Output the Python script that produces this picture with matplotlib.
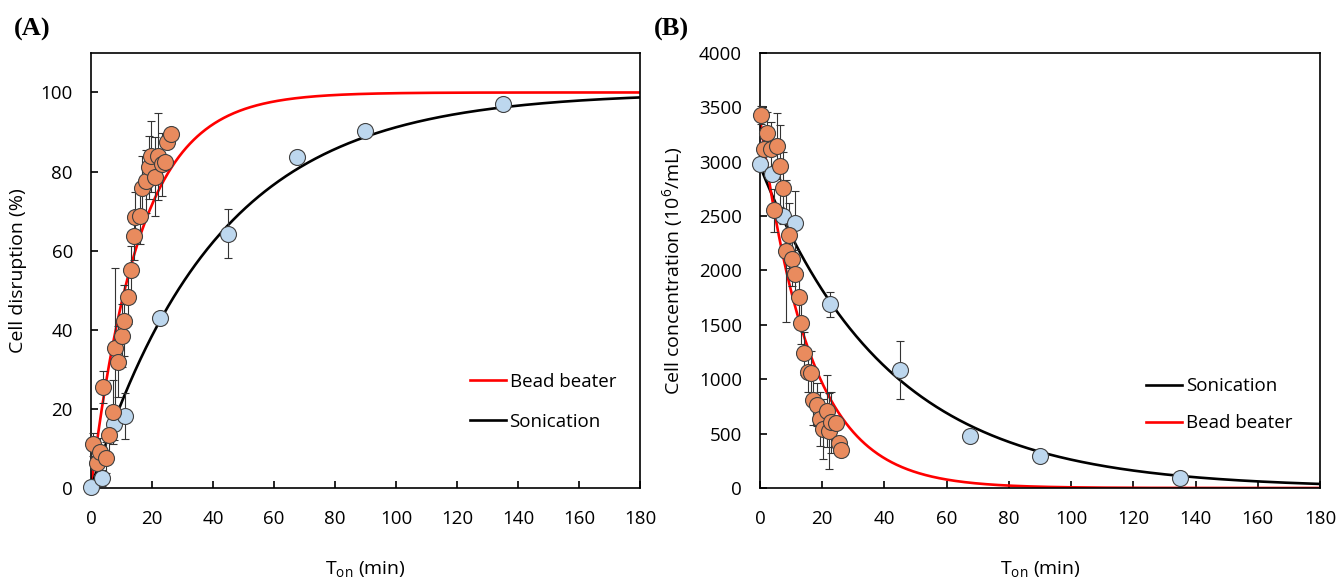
import numpy as np
import matplotlib
matplotlib.use("Agg")
import matplotlib.pyplot as plt

plt.rcParams["font.family"] = ["Open Sans", "DejaVu Sans"]
plt.rcParams["mathtext.fontset"] = "custom"
plt.rcParams["mathtext.rm"] = "Open Sans"
plt.rcParams["mathtext.it"] = "Open Sans:italic"

# ---------------------------------------------------------------------------
# Measured data
# ---------------------------------------------------------------------------
# Sonication (same sampling times for both panels)
son_t = [0, 3.75, 7.5, 11.25, 22.5, 45, 67.5, 90, 135]
son_disr = [0.3, 2.5, 16.2, 18.2, 43.0, 64.3, 83.8, 90.3, 97.0]
son_disr_err = [0.0, 2.0, 4.0, 5.7, 0.8, 6.2, 1.6, 1.0, 0.6]
son_conc = [2975, 2886, 2500, 2439, 1690, 1085, 480, 290, 90]
son_conc_err = [0, 0, 0, 290, 115, 270, 55, 50, 20]

# Bead beater, panel A
bb_t_a = [0.75, 1.9, 2.95, 3.8, 4.8, 5.9, 7.1, 7.9, 9.0, 10.3, 10.9, 12.0,
          13.0, 14.0, 14.4, 16.1, 16.8, 17.9, 19.0, 19.7, 21.0, 22.1, 23.2,
          24.3, 24.9, 26.2]
bb_disr = [11.0, 6.4, 9.2, 25.5, 7.7, 13.3, 19.2, 35.5, 31.9, 38.5, 42.3, 48.4,
           55.2, 63.6, 68.4, 68.7, 75.9, 77.5, 81.1, 83.9, 78.7, 83.9, 81.8,
           82.4, 87.4, 89.6]
bb_disr_err = [3.0, 3.0, 3.5, 4.0, 4.0, 6.0, 8.0, 20.0, 9.0, 8.0, 9.0, 7.0,
               6.0, 6.0, 6.5, 7.0, 8.0, 8.0, 8.0, 9.0, 10.0, 11.0, 8.0,
               0.0, 0.0, 0.0]

# Bead beater, panel B
bb_t_b = [0.3, 1.2, 2.2, 3.5, 4.4, 5.5, 6.5, 7.5, 8.3, 9.4, 10.3, 11.3, 12.4,
          13.2, 14.2, 15.3, 16.4, 17.1, 18.3, 19.3, 20.1, 21.5, 22.2, 22.8,
          24.4, 25.4, 26.2]
bb_conc = [3430, 3116, 3261, 3116, 2553, 3144, 2959, 2760, 2177, 2322, 2106,
           1968, 1752, 1521, 1238, 1065, 1059, 813, 767, 634, 542, 711, 526,
           603, 597, 413, 345]
bb_conc_err = [80, 120, 200, 250, 200, 300, 380, 330, 650, 300, 250, 220, 230,
               200, 200, 180, 200, 230, 200, 250, 280, 330, 350, 280, 0, 0, 0]

# First-order fits: rate constants (1/min) and initial concentrations
K_BB = 0.063
K_SON = 0.0243
C0_BB = 3400
C0_SON = 2960

ORANGE = "#E98B5E"
BLUE = "#BDD7EE"
EDGE = "#404040"


def _style(ax):
    for sp in ax.spines.values():
        sp.set_linewidth(1.2)
        sp.set_color("black")
    ax.tick_params(direction="in", length=5, width=1.2, labelsize=13.5,
                   top=False, right=False)
    ax.tick_params(axis="x", pad=16)
    ax.tick_params(axis="y", pad=13)
    ax.set_xlim(0, 180)
    ax.set_xticks(range(0, 181, 20))
    ax.set_xlabel("T$_{\\mathrm{on}}$ (min)", fontsize=14, labelpad=22)


def _points(ax, t, y, err, color):
    ax.errorbar(t, y, yerr=err, fmt="none", ecolor="#333333",
                elinewidth=0.8, capsize=3, capthick=0.8, zorder=3,
                clip_on=False)
    ax.plot(t, y, "o", ms=11.5, mfc=color, mec=EDGE, mew=0.8,
            linestyle="none", zorder=4, clip_on=False)


fig = plt.figure(figsize=(13.38, 5.84), dpi=100)
ax_a = fig.add_axes([0.068, 0.1644, 0.4103, 0.745])
ax_b = fig.add_axes([0.568, 0.1644, 0.4185, 0.745])

t_fit = np.linspace(0, 180, 600)

# (A) cell disruption
_style(ax_a)
ax_a.set_ylim(0, 110)
ax_a.set_yticks(range(0, 101, 20))
ax_a.plot(t_fit, 100 * (1 - np.exp(-K_BB * t_fit)), color="red", lw=1.9,
          label="Bead beater", zorder=2)
ax_a.plot(t_fit, 100 * (1 - np.exp(-K_SON * t_fit)), color="black", lw=1.9,
          label="Sonication", zorder=2)
_points(ax_a, son_t, son_disr, son_disr_err, BLUE)
_points(ax_a, bb_t_a, bb_disr, bb_disr_err, ORANGE)
ax_a.set_ylabel("Cell disruption (%)", fontsize=14, labelpad=10)
ax_a.legend(loc="upper left", bbox_to_anchor=(0.66, 0.304), frameon=False,
            fontsize=13.5, handlelength=1.9, handletextpad=0.2,
            labelspacing=1.17)
fig.text(0.010, 0.95, "(A)", fontsize=19, fontweight="bold",
         family="Liberation Serif", va="center")

# (B) cell concentration
_style(ax_b)
ax_b.set_ylim(0, 4000)
ax_b.set_yticks(range(0, 4001, 500))
ax_b.plot(t_fit, C0_SON * np.exp(-K_SON * t_fit), color="black", lw=1.9,
          label="Sonication", zorder=2)
ax_b.plot(t_fit, C0_BB * np.exp(-K_BB * t_fit), color="red", lw=1.9,
          label="Bead beater", zorder=2)
_points(ax_b, son_t, son_conc, son_conc_err, BLUE)
_points(ax_b, bb_t_b, bb_conc, bb_conc_err, ORANGE)
ax_b.set_ylabel("Cell concentration (10$^6$/mL)", fontsize=14, labelpad=10)
ax_b.legend(loc="upper left", bbox_to_anchor=(0.66, 0.293), frameon=False,
            fontsize=13.5, handlelength=1.9, handletextpad=0.2,
            labelspacing=1.0)
fig.text(0.489, 0.95, "(B)", fontsize=19, fontweight="bold",
         family="Liberation Serif", va="center")

fig.savefig("out.png", dpi=100)
